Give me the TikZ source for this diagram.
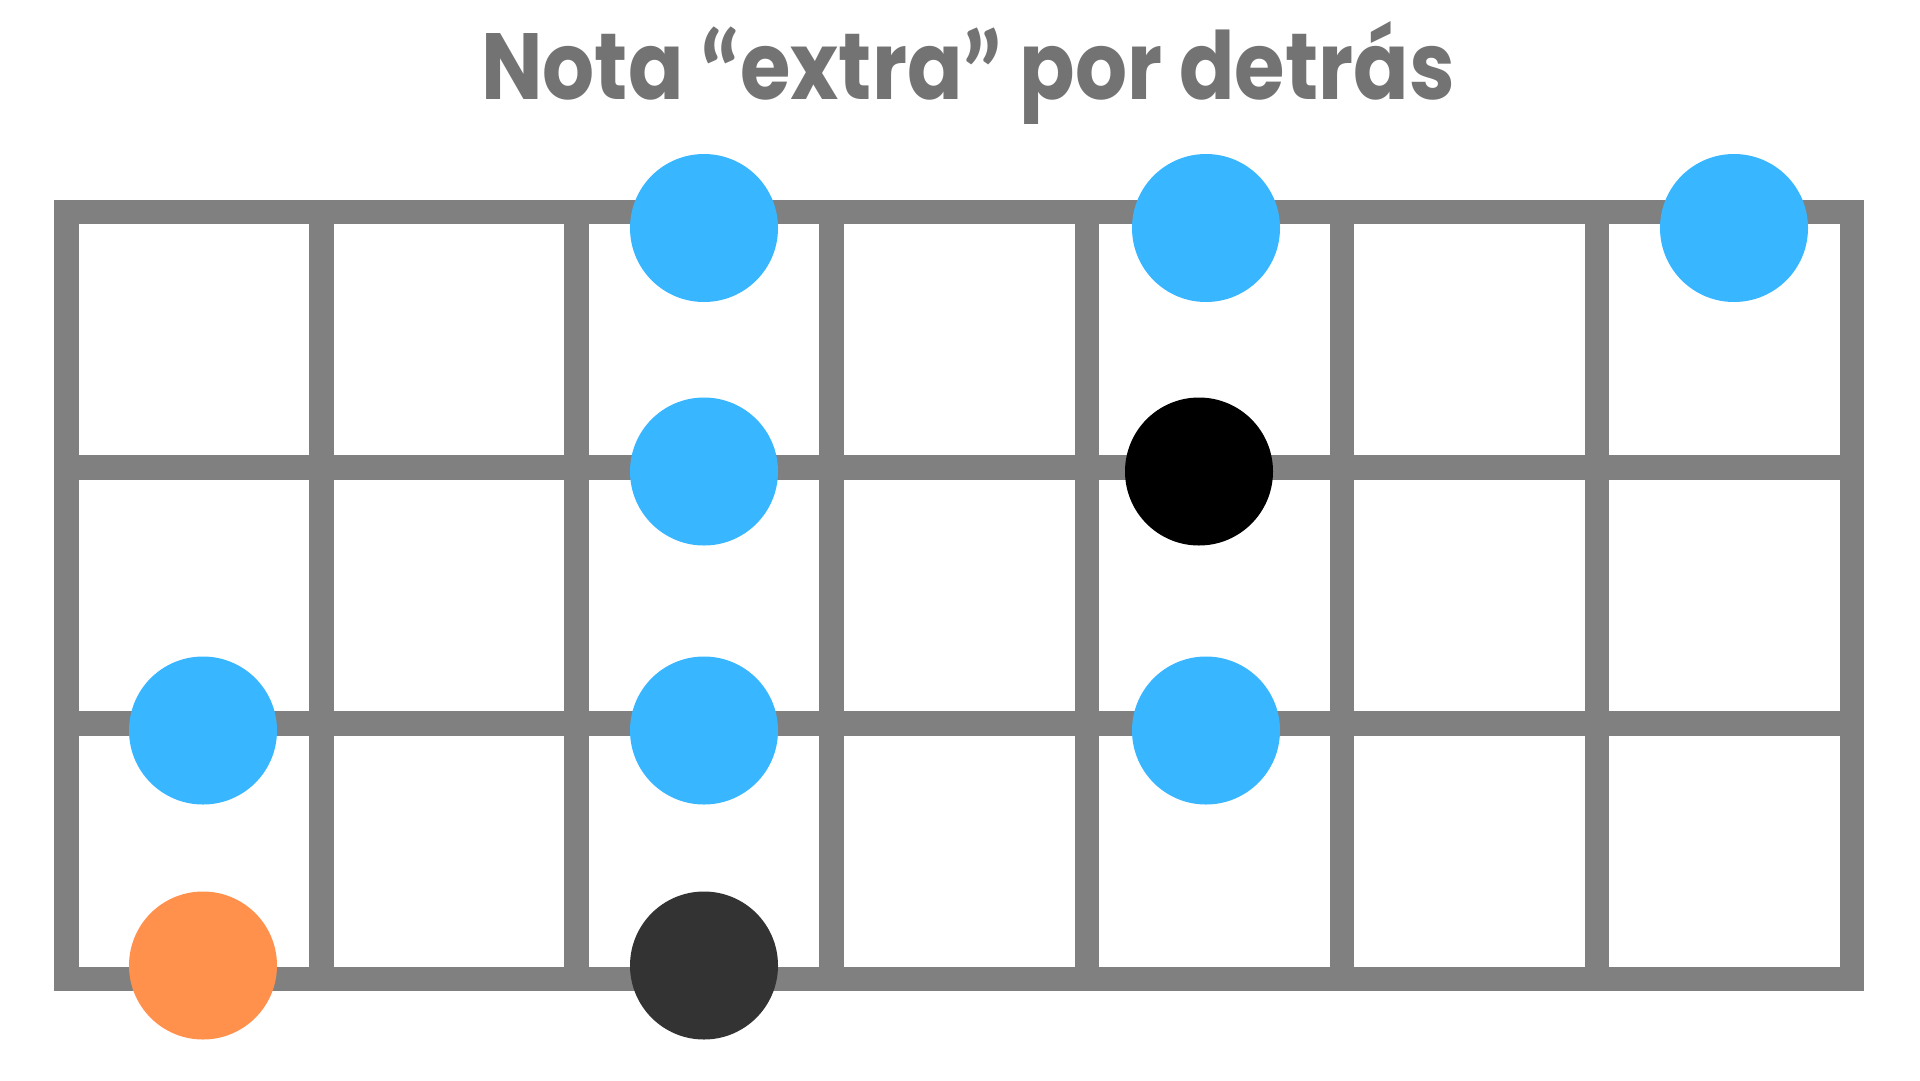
\documentclass[tikz,border=0pt]{standalone}
\usepackage{fontspec}
\usepackage{graphicx}
\setmainfont{Poppins}[BoldFont={* Bold}]
\newfontfamily\quotefont{Lato}[BoldFont={* Bold}]
\definecolor{gridgray}{HTML}{808080}
\definecolor{titlegray}{HTML}{737373}
\definecolor{noteblue}{HTML}{38B6FF}
\definecolor{noteorange}{HTML}{FF914D}
\definecolor{notedark}{HTML}{333333}
\tikzset{
  fret/.style={draw=gridgray, line width=24.5pt, line cap=rect},
  dot/.style={circle, inner sep=0pt, minimum size=148pt},
  bluedot/.style={dot, fill=noteblue},
  orangedot/.style={dot, fill=noteorange},
  blackdot/.style={dot, fill=black},
  darkdot/.style={dot, fill=notedark},
}
\newcommand{\qo}{\raisebox{-19pt}{\scalebox{1.25}{\quotefont\bfseries “}}}
\newcommand{\qc}{\raisebox{-19pt}{\scalebox{1.25}{\quotefont\bfseries ”}}}
\begin{document}
\begin{tikzpicture}[x=1pt,y=-1pt]
\useasboundingbox (0,0) rectangle (1920,1080);
\fill[white] (0,0) rectangle (1920,1080);
% title
\node[anchor=base, text=titlegray, font=\bfseries\fontsize{94}{100}\selectfont, inner sep=0pt] (title) at (968,99) {\scalebox{0.87}[1]{Nota \qo extra\qc{} por detrás}};
% grid: horizontal strings
\foreach \yy in {212,467.5,723.5,979} {
  \draw[fret] (66.5,\yy) -- (1852,\yy);
}
% grid: vertical frets
\foreach \k in {0,...,7} {
  \draw[fret] ({66.5+255.07*\k},212) -- ({66.5+255.07*\k},979);
}
% notes
\node[bluedot] (b1) at (704,228) {};
\node[bluedot] (b2) at (1206,228) {};
\node[bluedot] (b3) at (1734,228) {};
\node[bluedot] (b4) at (704,471.5) {};
\node[blackdot] (k1) at (1199,471.5) {};
\node[bluedot] (b5) at (203,730.5) {};
\node[bluedot] (b6) at (704,730.5) {};
\node[bluedot] (b7) at (1206,730.5) {};
\node[orangedot] (o1) at (203,965.5) {};
\node[darkdot] (d1) at (704,965.5) {};
\end{tikzpicture}
\end{document}
